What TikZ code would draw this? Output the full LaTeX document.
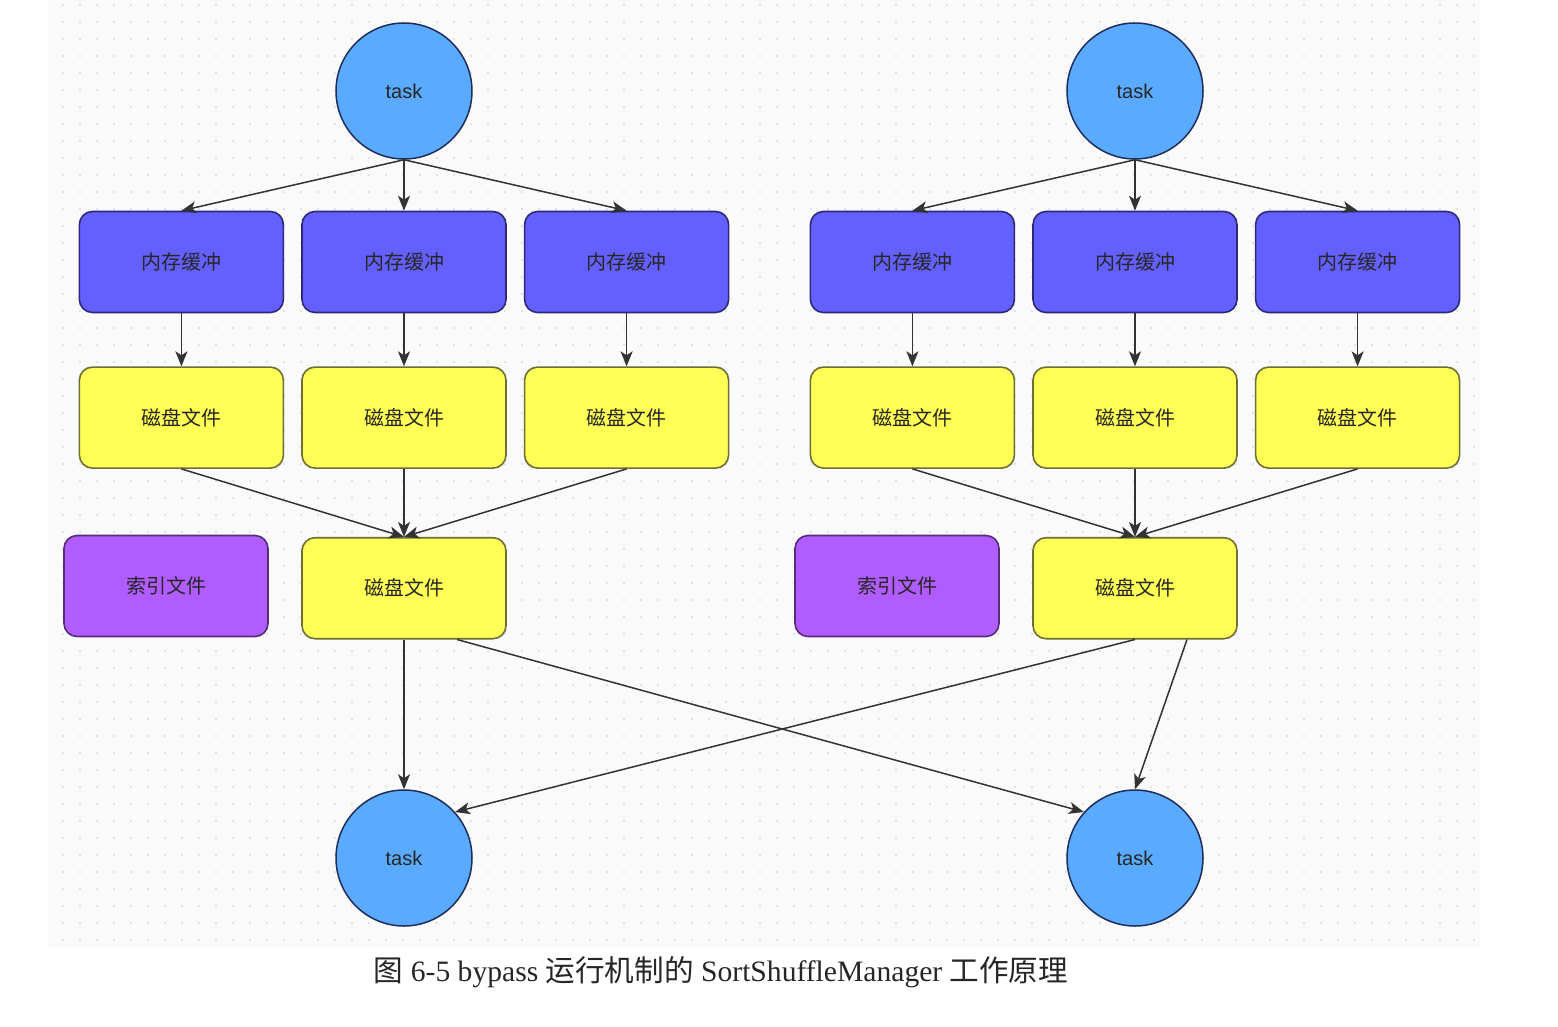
\documentclass[tikz,border=0pt]{standalone}
\usepackage{fontspec}
\setmainfont{Liberation Serif}
\newfontfamily\cjk{Noto Sans CJK SC}
\newfontfamily\labelsans{Liberation Sans}
\usepackage{xcolor}
\usepackage{tikz}
\usetikzlibrary{positioning,arrows.meta}

\definecolor{taskblue}{RGB}{90,170,255}
\definecolor{taskline}{RGB}{30,45,90}
\definecolor{bufblue}{RGB}{100,96,255}
\definecolor{bufline}{RGB}{45,40,120}
\definecolor{diskyellow}{RGB}{255,255,85}
\definecolor{diskline}{RGB}{110,110,55}
\definecolor{idxpurple}{RGB}{176,92,255}
\definecolor{idxline}{RGB}{85,45,120}

\begin{document}
\begin{tikzpicture}[
    x=1pt, y=-1pt,
    task/.style={circle, draw=taskline, fill=taskblue, line width=1.5pt, minimum size=136pt, inner sep=0pt,
      font=\labelsans\fontsize{20}{22}\selectfont, text=black!85},
    box/.style={draw, rounded corners=13pt, line width=1.6pt, minimum width=204pt, minimum height=101pt,
      inner sep=0pt, font=\cjk\fontsize{20}{22}\selectfont, text=black!85},
    buffer/.style={box, fill=bufblue, draw=bufline},
    disk/.style={box, fill=diskyellow, draw=diskline},
    index/.style={box, fill=idxpurple, draw=idxline},
    arrow/.style={-{Stealth[length=15pt,width=12pt,inset=4pt]}, line width=1.5pt, draw=black!80}
  ]
    \useasboundingbox (0,0) rectangle (1558,1026);
    % dotted canvas
    \fill[black!2] (48,0) rectangle (1480,948);
    \foreach \gx in {63,80,...,1477}
      \foreach \gy in {5,22,...,942}
        \fill[black!14] (\gx,\gy) circle (1.2pt);

    % left task
    \node[task] (t1) at (404,91) {task};
    \node[buffer] (b2) at (404,262) {内存缓冲};
    \node[buffer, left=17pt of b2] (b1) {内存缓冲};
    \node[buffer, right=17pt of b2] (b3) {内存缓冲};
    \node[disk, below=53pt of b1] (d1) {磁盘文件};
    \node[disk, below=53pt of b2] (d2) {磁盘文件};
    \node[disk, below=53pt of b3] (d3) {磁盘文件};
    \node[disk, below=68pt of d2] (m1) {磁盘文件};
    \node[index] (i1) at (166,586) {索引文件};

    % right task
    \node[task] (t2) at (1135,91) {task};
    \node[buffer] (b5) at (1135,262) {内存缓冲};
    \node[buffer, left=17pt of b5] (b4) {内存缓冲};
    \node[buffer, right=17pt of b5] (b6) {内存缓冲};
    \node[disk, below=53pt of b4] (d4) {磁盘文件};
    \node[disk, below=53pt of b5] (d5) {磁盘文件};
    \node[disk, below=53pt of b6] (d6) {磁盘文件};
    \node[disk, below=68pt of d5] (m2) {磁盘文件};
    \node[index] (i2) at (897,586) {索引文件};

    % reduce tasks
    \node[task] (t3) at (404,858) {task};
    \node[task] (t4) at (1135,858) {task};

    \foreach \b in {b1,b2,b3}
      \draw[arrow] (t1.south) -- (\b.north);
    \foreach \b in {b4,b5,b6}
      \draw[arrow] (t2.south) -- (\b.north);
    \foreach \b/\d in {b1/d1,b2/d2,b3/d3,b4/d4,b5/d5,b6/d6}
      \draw[arrow] (\b) -- (\d);
    \foreach \d in {d1,d2,d3}
      \draw[arrow] (\d.south) -- (m1.north);
    \foreach \d in {d4,d5,d6}
      \draw[arrow] (\d.south) -- (m2.north);
    \draw[arrow] (m1.south) -- (t3.north);
    \draw[arrow] ([xshift=53pt]m1.south) -- (t4.138);
    \draw[arrow] (m2.south) -- (t3.42);
    \draw[arrow] ([xshift=52pt]m2.south) -- (t4.north);

    \node[font=\fontsize{29.6}{32}\selectfont, text=black!85] (caption) at (721,972)
      {{\cjk 图} 6-5 bypass {\cjk 运行机制的} SortShuffleManager {\cjk 工作原理}};
  \end{tikzpicture}
\end{document}
